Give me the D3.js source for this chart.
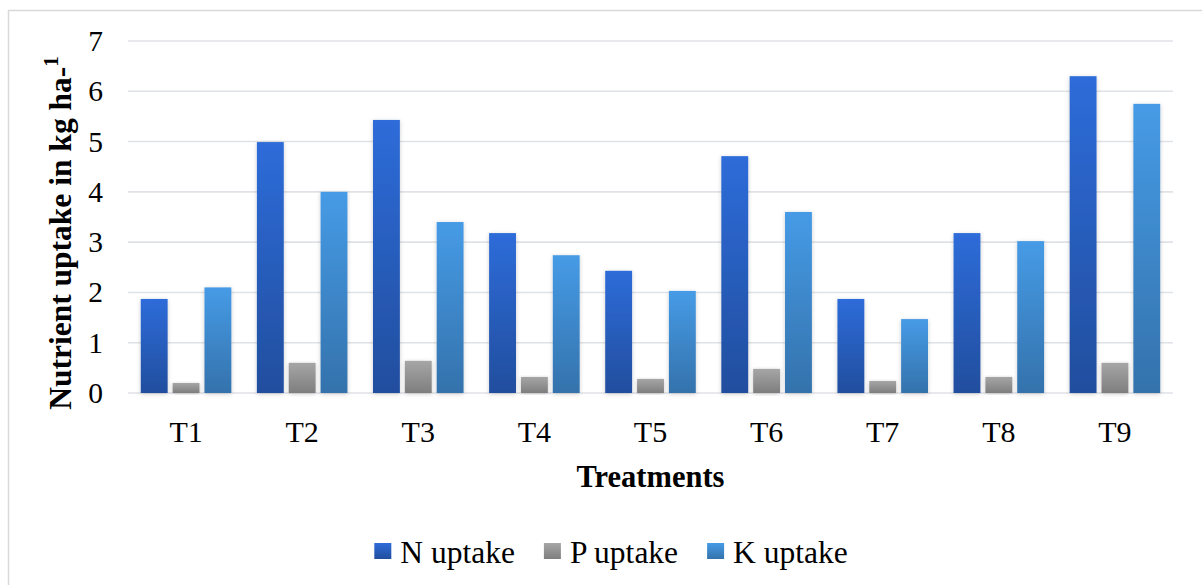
<!DOCTYPE html>
<html>
<head>
<meta charset="utf-8">
<script src="https://cdn.jsdelivr.net/npm/d3@7"></script>
<style>
  html, body { margin: 0; padding: 0; background: #fff; }
  svg { display: block; }
  svg text { font-family: "Liberation Serif", "Times New Roman", "DejaVu Serif", serif; }
</style>
</head>
<body>
<div id="chart"></div>
<script>
const treatments = ["T1", "T2", "T3", "T4", "T5", "T6", "T7", "T8", "T9"];
const seriesNames = ["N uptake", "P uptake", "K uptake"];
const nUptake = [1.87, 4.99, 5.43, 3.18, 2.43, 4.71, 1.87, 3.18, 6.30];
const pUptake = [0.20, 0.60, 0.64, 0.32, 0.28, 0.48, 0.24, 0.32, 0.60];
const kUptake = [2.10, 4.00, 3.40, 2.74, 2.03, 3.60, 1.47, 3.02, 5.75];
const yTicks = [0, 1, 2, 3, 4, 5, 6, 7];

const width = 1202;
const height = 585;
const margin = { top: 41, right: 29, bottom: 192, left: 128 };
const serif = "'Liberation Serif', 'Times New Roman', serif";

const gradients = [
  { id: "gN", top: "#2e6cd9", bottom: "#214e9e" },
  { id: "gP", top: "#a6a6a6", bottom: "#7e7e7e" },
  { id: "gK", top: "#469be6", bottom: "#3472ac" },
];

const rows = treatments.map((t, i) => ({
  t,
  values: [nUptake[i], pUptake[i], kUptake[i]],
}));

const svg = d3
  .select("#chart")
  .append("svg")
  .attr("width", width)
  .attr("height", height)
  .attr("font-family", serif);

const defs = svg.append("defs");
gradients.forEach((g) => {
  const lg = defs
    .append("linearGradient")
    .attr("id", g.id)
    .attr("x1", 0).attr("y1", 0).attr("x2", 0).attr("y2", 1);
  lg.append("stop").attr("offset", "0%").attr("stop-color", g.top);
  lg.append("stop").attr("offset", "100%").attr("stop-color", g.bottom);
});
const shadow = defs.append("filter").attr("id", "shadow")
  .attr("x", "-30%").attr("y", "-10%").attr("width", "160%").attr("height", "120%");
shadow.append("feDropShadow")
  .attr("dx", 0).attr("dy", 1)
  .attr("stdDeviation", 2.2)
  .attr("flood-color", "#000")
  .attr("flood-opacity", 0.2);

// chart border
svg.append("rect")
  .attr("x", 8.5).attr("y", 10.5)
  .attr("width", 1210).attr("height", 600)
  .attr("fill", "none")
  .attr("stroke", "#d9d9d9")
  .attr("stroke-width", 1.5);

const x0 = d3.scaleBand()
  .domain(treatments)
  .range([margin.left, width - margin.right])
  .paddingInner(0.22)
  .paddingOuter(0.11);

const x1 = d3.scaleBand()
  .domain(seriesNames)
  .range([0, x0.bandwidth()])
  .paddingInner(0.156)
  .paddingOuter(0);

const y = d3.scaleLinear()
  .domain([0, 7])
  .range([height - margin.bottom, margin.top]);

// gridlines
svg.append("g")
  .selectAll("line")
  .data(yTicks)
  .join("line")
  .attr("x1", margin.left)
  .attr("x2", width - margin.right)
  .attr("y1", (d) => y(d))
  .attr("y2", (d) => y(d))
  .attr("stroke", "#dfe2e6")
  .attr("stroke-width", 1.6);

// y tick labels
svg.append("g")
  .selectAll("text")
  .data(yTicks)
  .join("text")
  .attr("x", 103)
  .attr("y", (d) => y(d) + 10)
  .attr("text-anchor", "end")
  .attr("font-size", 29.5)
  .attr("fill", "#000")
  .text((d) => d);

// bars
const groups = svg.append("g")
  .selectAll("g")
  .data(rows)
  .join("g")
  .attr("transform", (d) => `translate(${x0(d.t)},0)`);

groups.selectAll("rect")
  .data((d) => d.values.map((v, i) => ({ v, s: seriesNames[i], g: gradients[i].id })))
  .join("rect")
  .attr("x", (d) => x1(d.s))
  .attr("width", x1.bandwidth())
  .attr("y", (d) => y(d.v))
  .attr("height", (d) => y(0) - y(d.v))
  .attr("fill", (d) => `url(#${d.g})`)
  .attr("filter", "url(#shadow)");

// x category labels
svg.append("g")
  .selectAll("text")
  .data(treatments)
  .join("text")
  .attr("x", (d) => x0(d) + x0.bandwidth() / 2)
  .attr("y", 442)
  .attr("text-anchor", "middle")
  .attr("font-size", 30)
  .attr("fill", "#000")
  .text((d) => d);

// x axis title
svg.append("text")
  .attr("x", (margin.left + width - margin.right) / 2)
  .attr("y", 487)
  .attr("text-anchor", "middle")
  .attr("font-size", 30.5)
  .attr("font-weight", "bold")
  .attr("fill", "#000")
  .text("Treatments");

// y axis title
const yTitle = svg.append("text")
  .attr("transform", "translate(71,233) rotate(-90)")
  .attr("text-anchor", "middle")
  .attr("font-size", 31.5)
  .attr("font-weight", "bold")
  .attr("fill", "#000");
yTitle.append("tspan").text("Nutrient  uptake in kg ha-");
yTitle.append("tspan").attr("font-size", 21).attr("dy", -13).text("1");

// legend
const legend = svg.append("g");
const items = legend.selectAll("g")
  .data(seriesNames)
  .join("g");
items.append("rect")
  .attr("width", 17).attr("height", 16)
  .attr("y", -20)
  .attr("fill", (d, i) => `url(#${gradients[i].id})`);
items.append("text")
  .attr("x", 26)
  .attr("font-size", 31.5)
  .attr("fill", "#000")
  .text((d) => d);
let cursor = 0;
items.each(function () {
  const w = d3.select(this).select("text").node().getComputedTextLength();
  d3.select(this).attr("transform", `translate(${cursor},563)`);
  cursor += 26 + w + 29;
});
const legendWidth = cursor - 29;
legend.attr("transform", `translate(${611 - legendWidth / 2},0)`);
</script>
</body>
</html>
